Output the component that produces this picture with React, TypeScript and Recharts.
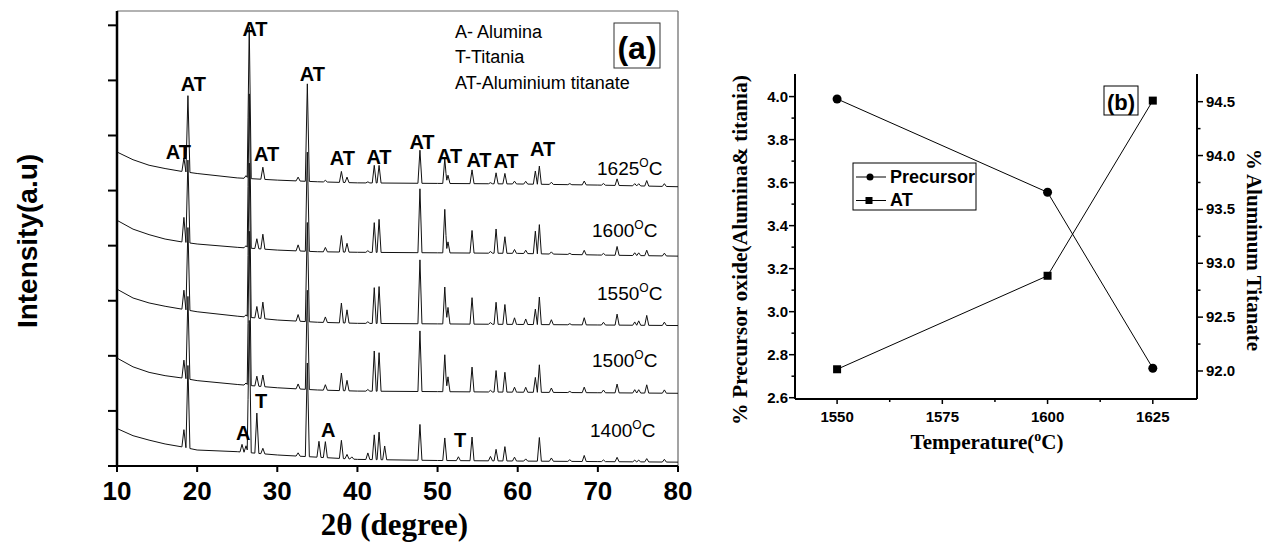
import React from 'react';
import { LineChart, Line, XAxis, YAxis, ReferenceLine } from 'recharts';

// ---------- Panel (a): XRD patterns ----------
const TWO_THETA_TICKS = [10, 20, 30, 40, 50, 60, 70, 80];
const INTENSITY_TICKS = [0, 1, 2, 3, 4, 5, 6, 7, 8];

// background samples (2theta) and per-pattern background levels (a.u.)
const BG_X = [10, 12, 14, 16, 18, 20, 25, 30, 35, 40, 50, 60, 70, 80];
const BG_1625 = [5.70, 5.56, 5.46, 5.40, 5.35, 5.31, 5.23, 5.19, 5.16, 5.14, 5.13, 5.12, 5.10, 5.07];
const BG_1600 = [4.46, 4.30, 4.20, 4.12, 4.07, 4.03, 3.97, 3.92, 3.89, 3.88, 3.87, 3.86, 3.83, 3.81];
const BG_1550 = [3.21, 3.05, 2.96, 2.90, 2.85, 2.80, 2.72, 2.65, 2.61, 2.59, 2.58, 2.57, 2.56, 2.55];
const BG_1500 = [1.96, 1.80, 1.70, 1.64, 1.60, 1.55, 1.48, 1.42, 1.38, 1.36, 1.35, 1.34, 1.33, 1.32];
const BG_1400 = [0.68, 0.55, 0.47, 0.40, 0.35, 0.29, 0.26, 0.20, 0.16, 0.12, 0.10, 0.09, 0.08, 0.07];

// reflection positions (2theta, degree) and heights above background per pattern
const PEAK_POS = [18.35, 18.85, 25.6, 26.1, 26.5, 27.45, 28.2, 32.6, 33.75, 35.2, 36.0, 38.0, 38.7, 39.3, 41.3, 42.1, 42.7, 43.4, 47.8, 50.9, 51.3, 52.6, 54.3, 56.6, 57.3, 58.4, 59.6, 61.0, 62.2, 62.7, 64.2, 66.5, 68.3, 70.7, 72.4, 74.6, 75.1, 76.1, 78.3];
const PEAK_1625 = [0.25, 1.39, 0, 0.05, 2.75, 0, 0.22, 0.07, 1.77, 0, 0.03, 0.20, 0.10, 0, 0.02, 0.32, 0.32, 0, 0.60, 0.45, 0.15, 0, 0.25, 0.02, 0.20, 0.19, 0.05, 0.05, 0.24, 0.33, 0.04, 0.02, 0.07, 0.03, 0.12, 0.04, 0.04, 0.10, 0.05];
const PEAK_1600 = [0.45, 1.50, 0, 0.04, 2.80, 0.18, 0.27, 0.11, 1.80, 0, 0.08, 0.30, 0.16, 0, 0.03, 0.54, 0.60, 0, 1.16, 0.79, 0.20, 0, 0.41, 0.03, 0.44, 0.30, 0.07, 0.06, 0.41, 0.53, 0.04, 0.02, 0.08, 0.03, 0.16, 0.05, 0.05, 0.10, 0.05];
const PEAK_1550 = [0.35, 1.50, 0, 0.04, 2.80, 0.21, 0.30, 0.12, 1.80, 0, 0.10, 0.36, 0.24, 0, 0.03, 0.65, 0.67, 0, 1.16, 0.67, 0.30, 0, 0.48, 0.03, 0.40, 0.36, 0.12, 0.10, 0.28, 0.50, 0.09, 0.02, 0.13, 0.05, 0.20, 0.06, 0.08, 0.18, 0.06];
const PEAK_1500 = [0.33, 1.50, 0, 0.04, 2.80, 0.18, 0.21, 0.09, 1.80, 0, 0.10, 0.32, 0.19, 0, 0.03, 0.73, 0.70, 0, 1.10, 0.67, 0.27, 0, 0.45, 0.03, 0.39, 0.36, 0.09, 0.09, 0.27, 0.50, 0.08, 0.02, 0.10, 0.05, 0.16, 0.06, 0.06, 0.15, 0.06];
const PEAK_1400 = [0.32, 1.50, 0.14, 0.12, 2.40, 0.73, 0.10, 0.06, 1.70, 0.29, 0.29, 0.33, 0.08, 0.04, 0.12, 0.45, 0.50, 0.25, 0.65, 0.41, 0, 0.07, 0.43, 0.08, 0.21, 0.26, 0.07, 0.04, 0, 0.43, 0.06, 0.03, 0.11, 0.03, 0.08, 0.03, 0.03, 0.06, 0.05];

const PATTERN_LABELS = ['1625', '1600', '1550', '1500', '1400'];

// ---------- Panel (b) ----------
const TEMPERATURES = [1550, 1600, 1625];
const PRECURSOR = [3.989, 3.555, 2.737];
const AT_PERCENT = [92.016, 92.884, 94.51];
const TEMP_TICKS = [1550, 1562.5, 1575, 1587.5, 1600, 1612.5, 1625];
const LEFT_TICKS = [2.6, 2.7, 2.8, 2.9, 3.0, 3.1, 3.2, 3.3, 3.4, 3.5, 3.6, 3.7, 3.8, 3.9, 4.0];
const RIGHT_TICKS = [92.0, 92.25, 92.5, 92.75, 93.0, 93.25, 93.5, 93.75, 94.0, 94.25, 94.5];

const SANS = '"Liberation Sans", Arial, sans-serif';
const SERIF = '"Liberation Serif", "Times New Roman", serif';
const HALF_WIDTH = 0.25;

function bgAt(bg: number[], x: number): number {
  for (let i = 0; i < BG_X.length - 1; i++) {
    if (x >= BG_X[i] && x <= BG_X[i + 1]) {
      const t = (x - BG_X[i]) / (BG_X[i + 1] - BG_X[i]);
      return bg[i] + t * (bg[i + 1] - bg[i]);
    }
  }
  return bg[bg.length - 1];
}

function buildPattern(bg: number[], peaks: number[]) {
  const xs = new Set<number>(BG_X);
  PEAK_POS.forEach((p, i) => {
    if (peaks[i] > 0) {
      xs.add(+(p - HALF_WIDTH).toFixed(3));
      xs.add(p);
      xs.add(+(p + HALF_WIDTH).toFixed(3));
    }
  });
  const sorted = Array.from(xs).sort((a, b) => a - b);
  return sorted.map((x) => {
    let y = bgAt(bg, x);
    PEAK_POS.forEach((p, i) => {
      const d = Math.abs(x - p);
      if (d < HALF_WIDTH) y += peaks[i] * (1 - d / HALF_WIDTH);
    });
    return { x, y };
  });
}

const PATTERNS = [
  buildPattern(BG_1625, PEAK_1625),
  buildPattern(BG_1600, PEAK_1600),
  buildPattern(BG_1550, PEAK_1550),
  buildPattern(BG_1500, PEAK_1500),
  buildPattern(BG_1400, PEAK_1400),
];

const panelB = TEMPERATURES.map((t, i) => ({ t, p: PRECURSOR[i], at: AT_PERCENT[i] }));

// ---------- tick renderers ----------
const BottomTickA = (props: any) => {
  const { x, y, payload } = props;
  return (
    <g>
      <line x1={x} x2={x} y1={y} y2={y + 6} stroke="#000" strokeWidth={2} />
      <text x={x} y={y + 34} textAnchor="middle" fontFamily={SANS} fontWeight="bold" fontSize={26} fill="#000">
        {payload.value}
      </text>
    </g>
  );
};
const LeftTickA = (props: any) => {
  const { x, y } = props;
  return <line x1={x - 9} x2={x} y1={y} y2={y} stroke="#000" strokeWidth={2} />;
};

const BottomTickB = (props: any) => {
  const { x, y, payload } = props;
  const major = payload.value % 25 === 0;
  return (
    <g>
      <line x1={x} x2={x} y1={y} y2={y + (major ? 5 : 3)} stroke="#000" strokeWidth={1.5} />
      {major && (
        <text x={x} y={y + 23} textAnchor="middle" fontFamily={SANS} fontWeight="bold" fontSize={15} fill="#000">
          {payload.value}
        </text>
      )}
    </g>
  );
};
const TopTickB = (props: any) => {
  const { x, y, payload } = props;
  const major = payload.value % 25 === 0;
  return <line x1={x} x2={x} y1={y} y2={y + (major ? 6 : 4)} stroke="#000" strokeWidth={1.5} />;
};
const LeftTickB = (props: any) => {
  const { x, y, payload } = props;
  const v = payload.value as number;
  const major = Math.round(v * 10) % 2 === 0;
  return (
    <g>
      <line x1={x - (major ? 6 : 3.5)} x2={x} y1={y} y2={y} stroke="#000" strokeWidth={1.5} />
      {major && (
        <text x={x - 7} y={y + 5} textAnchor="end" fontFamily={SANS} fontWeight="bold" fontSize={15} fill="#000">
          {v.toFixed(1)}
        </text>
      )}
    </g>
  );
};
const RightTickB = (props: any) => {
  const { x, y, payload } = props;
  const v = payload.value as number;
  const major = Math.round(v * 100) % 50 === 0;
  return (
    <g>
      <line x1={x} x2={x + (major ? 6 : 3.5)} y1={y} y2={y} stroke="#000" strokeWidth={1.5} />
      {major && (
        <text x={x + 9} y={y + 5} textAnchor="start" fontFamily={SANS} fontWeight="bold" fontSize={15} fill="#000">
          {v.toFixed(1)}
        </text>
      )}
    </g>
  );
};

const CircleDot = (props: any) => {
  const { cx, cy, index } = props;
  return <circle key={`c${index}`} cx={cx} cy={cy} r={4.5} fill="#000" />;
};
const SquareDot = (props: any) => {
  const { cx, cy, index } = props;
  return <rect key={`s${index}`} x={cx - 4} y={cy - 4} width={8} height={8} fill="#000" />;
};

// ---------- annotations ----------
const AT_LABELS: [number, number][] = [
  [178.3, 159], [193.3, 90.7], [255, 35.7], [266.7, 160.7], [312.3, 80.7], [342.3, 165],
  [379, 164], [422, 149], [449.7, 162.7], [479, 166.7], [506, 168], [542.6, 156],
];
const PHASE_LABELS: [string, number, number][] = [
  ['A', 243.3, 440], ['T', 261, 408.3], ['A', 328.3, 436.7], ['T', 460, 446.7],
];
const TEMP_LABEL_POS: [number, number][] = [[597, 175], [592, 237], [597, 300], [592, 367], [590, 437]];

export default function App() {
  return (
    <div style={{ position: 'absolute', left: 0, top: 0, width: 1270, height: 543, background: '#fff' }}>
      <div style={{ position: 'absolute', left: 0, top: 0 }}>
        <LineChart width={700} height={543} margin={{ top: 11, right: 22, bottom: 0, left: 0 }}>
          <XAxis
            dataKey="x"
            type="number"
            domain={[10, 80]}
            ticks={TWO_THETA_TICKS}
            interval={0}
            height={77}
            tickSize={0}
            tickMargin={0}
            tick={<BottomTickA />}
            tickLine={false}
            axisLine={{ stroke: '#000', strokeWidth: 2 }}
            allowDataOverflow
          />
          <YAxis
            type="number"
            domain={[0, 8.26]}
            ticks={INTENSITY_TICKS}
            interval={0}
            width={117}
            tickSize={0}
            tickMargin={0}
            tick={<LeftTickA />}
            tickLine={false}
            axisLine={{ stroke: '#000', strokeWidth: 2.5 }}
            allowDataOverflow
          />
          <ReferenceLine y={8.26} stroke="#666" strokeWidth={1.2} />
          <ReferenceLine x={80} stroke="#666" strokeWidth={1.2} />
          {PATTERNS.map((d, i) => (
            <Line
              key={PATTERN_LABELS[i]}
              data={d}
              dataKey="y"
              type="linear"
              stroke="#111"
              strokeWidth={1}
              dot={false}
              activeDot={false}
              isAnimationActive={false}
            />
          ))}
        </LineChart>
      </div>

      <div style={{ position: 'absolute', left: 700, top: 0 }}>
        <LineChart width={570} height={543} data={panelB} margin={{ top: 74, right: 0, bottom: 0, left: 0 }}>
          <XAxis
            dataKey="t"
            type="number"
            domain={[1540, 1635.5]}
            ticks={TEMP_TICKS}
            interval={0}
            height={144}
            tickSize={0}
            tickMargin={0}
            tick={<BottomTickB />}
            tickLine={false}
            axisLine={{ stroke: '#000', strokeWidth: 2 }}
          />
          <XAxis
            xAxisId="top"
            orientation="top"
            dataKey="t"
            type="number"
            domain={[1540, 1635.5]}
            ticks={TEMP_TICKS}
            interval={0}
            height={0}
            tickSize={0}
            tickMargin={0}
            tick={<TopTickB />}
            tickLine={false}
            axisLine={{ stroke: '#000', strokeWidth: 2 }}
          />
          <YAxis
            yAxisId="left"
            type="number"
            domain={[2.594, 4.105]}
            ticks={LEFT_TICKS}
            interval={0}
            width={95}
            tickSize={0}
            tickMargin={0}
            tick={<LeftTickB />}
            tickLine={false}
            axisLine={{ stroke: '#000', strokeWidth: 2 }}
          />
          <YAxis
            yAxisId="right"
            orientation="right"
            type="number"
            domain={[91.74, 94.757]}
            ticks={RIGHT_TICKS}
            interval={0}
            width={73}
            tickSize={0}
            tickMargin={0}
            tick={<RightTickB />}
            tickLine={false}
            axisLine={{ stroke: '#000', strokeWidth: 2 }}
          />
          <Line
            yAxisId="left"
            dataKey="p"
            name="Precursor"
            type="linear"
            stroke="#000"
            strokeWidth={1}
            dot={<CircleDot />}
            activeDot={false}
            isAnimationActive={false}
          />
          <Line
            yAxisId="right"
            dataKey="at"
            name="AT"
            type="linear"
            stroke="#000"
            strokeWidth={1}
            dot={<SquareDot />}
            activeDot={false}
            isAnimationActive={false}
          />
        </LineChart>
      </div>

      <svg
        width={1270}
        height={543}
        style={{ position: 'absolute', left: 0, top: 0, pointerEvents: 'none' }}
      >
        {/* panel (a) texts */}
        <text transform="translate(37,241) rotate(-90)" textAnchor="middle" fontFamily={SANS} fontWeight="bold" fontSize={28} fill="#000">
          Intensity(a.u)
        </text>
        <text x={394.5} y={535} textAnchor="middle" fontFamily={SERIF} fontWeight="bold" fontSize={31} fill="#000">
          2θ (degree)
        </text>
        <text x={455} y={38} fontFamily={SANS} fontSize={18} fill="#000">A- Alumina</text>
        <text x={455} y={63} fontFamily={SANS} fontSize={18} fill="#000">T-Titania</text>
        <text x={455} y={89} fontFamily={SANS} fontSize={18} fill="#000">AT-Aluminium titanate</text>
        <rect x={614} y={23} width={46} height={45} fill="none" stroke="#333" strokeWidth={1} />
        <text x={637} y={59} textAnchor="middle" fontFamily={SANS} fontWeight="bold" fontSize={32} fill="#000">(a)</text>
        {AT_LABELS.map(([x, y], i) => (
          <text key={`at${i}`} x={x} y={y} textAnchor="middle" fontFamily={SANS} fontWeight="bold" fontSize={20} fill="#000">
            AT
          </text>
        ))}
        {PHASE_LABELS.map(([s, x, y], i) => (
          <text key={`ph${i}`} x={x} y={y} textAnchor="middle" fontFamily={SANS} fontWeight="bold" fontSize={20} fill="#000">
            {s}
          </text>
        ))}
        {TEMP_LABEL_POS.map(([x, y], i) => (
          <text key={`tl${i}`} x={x} y={y} fontFamily={SANS} fontSize={19} fill="#000">
            {PATTERN_LABELS[i]}
            <tspan fontSize={12} dy={-8}>O</tspan>
            <tspan dy={8}>C</tspan>
          </text>
        ))}

        {/* panel (b) texts */}
        <rect x={1104} y={86} width={34} height={29} fill="none" stroke="#000" strokeWidth={1} />
        <text x={1121} y={110} textAnchor="middle" fontFamily={SANS} fontWeight="bold" fontSize={22} fill="#000">(b)</text>

        <rect x={853} y={163} width={123} height={47} fill="#fff" stroke="#000" strokeWidth={1} />
        <line x1={856} x2={886} y1={177} y2={177} stroke="#000" strokeWidth={1} />
        <circle cx={870} cy={177} r={3.5} fill="#000" />
        <text x={890} y={182.5} fontFamily={SANS} fontWeight="bold" fontSize={18} fill="#000">Precursor</text>
        <line x1={856} x2={886} y1={200.5} y2={200.5} stroke="#000" strokeWidth={1} />
        <rect x={865.5} y={197} width={7} height={7} fill="#000" />
        <text x={890} y={205.5} fontFamily={SANS} fontWeight="bold" fontSize={18} fill="#000">AT</text>

        <text transform="translate(747,250) rotate(-90)" textAnchor="middle" fontFamily={SERIF} fontWeight="bold" fontSize={21.5} fill="#000">
          % Precursor oxide(Alumina&amp; titania)
        </text>
        <text transform="translate(1247,250) rotate(90)" textAnchor="middle" fontFamily={SERIF} fontWeight="bold" fontSize={21} fill="#000">
          % Aluminum Titanate
        </text>
        <text x={987} y={449} textAnchor="middle" fontFamily={SERIF} fontWeight="bold" fontSize={21} fill="#000">
          Temperature(
          <tspan fontSize={14} dy={-8}>o</tspan>
          <tspan dy={8}>C)</tspan>
        </text>
      </svg>
    </div>
  );
}
